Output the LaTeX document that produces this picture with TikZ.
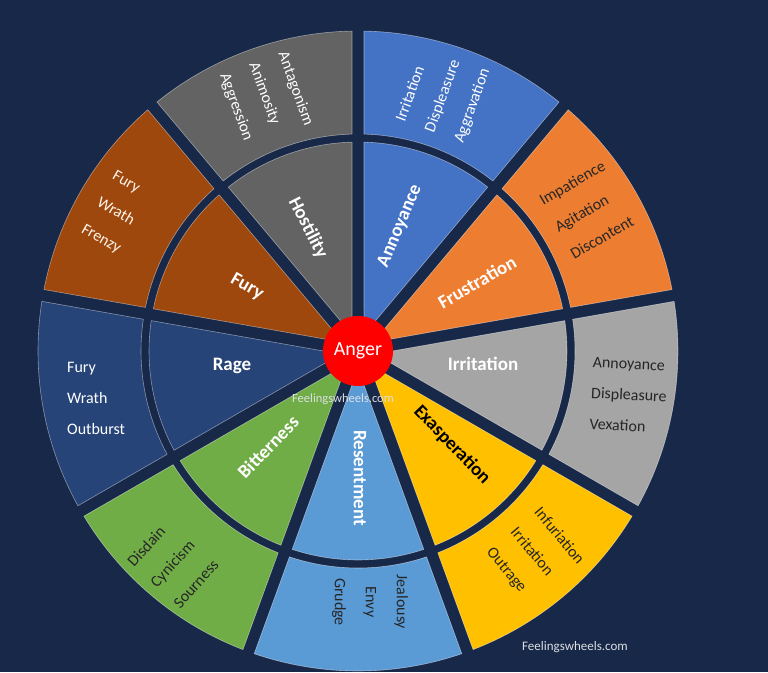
\documentclass[tikz,border=0pt]{standalone}
\usepackage{fontspec}
\setmainfont{Carlito}
\usetikzlibrary{positioning}
\definecolor{navybg}{RGB}{24,40,72}
\definecolor{annblue}{RGB}{68,114,196}
\definecolor{frusorange}{RGB}{237,125,49}
\definecolor{irrgrey}{RGB}{165,165,165}
\definecolor{exayellow}{RGB}{255,192,0}
\definecolor{resblue}{RGB}{91,155,213}
\definecolor{bitgreen}{RGB}{112,173,71}
\definecolor{ragenavy}{RGB}{38,68,120}
\definecolor{furybrown}{RGB}{158,72,14}
\definecolor{hostgrey}{RGB}{99,99,99}
\begin{document}
\begin{tikzpicture}[x=1pt,y=1pt,line join=round,
  inlabel/.style={font=\bfseries\fontsize{19}{22}\selectfont,text=white,inner sep=0pt},
  outlist/.style={font=\fontsize{16}{31}\selectfont,align=left,anchor=west,inner sep=0pt},
  site/.style={font=\fontsize{12.5}{15}\selectfont,text=white!85!navybg,inner sep=0pt}]
\fill[navybg] (-358,-321) rectangle (410,351);
\useasboundingbox (-358,-321) rectangle (410,351);
\foreach \a/\col in {50/annblue,10/frusorange,-30/irrgrey,-70/exayellow,-110/resblue,-150/bitgreen,170/ragenavy,130/furybrown,90/hostgrey}
  \foreach \ri/\ro in {28/209,217/320}{
    \pgfmathsetmacro\da{asin(6/\ro)}
    \pgfmathsetmacro\db{asin(6/\ri)}
    \draw[fill=\col,draw=white,draw opacity=0.45,line width=0.6pt] ({\a+\da}:\ro)
      arc[start angle=\a+\da,end angle=\a+40-\da,radius=\ro]
      -- ({\a+40-\db}:\ri)
      arc[start angle=\a+40-\db,end angle=\a+\db,radius=\ri] -- cycle;
  }
\node[circle,fill=red,minimum size=70pt,inner sep=0pt,text=white,font=\fontsize{20}{24}\selectfont] (anger) at (0,0) {Anger};
\node[inlabel,rotate=67] (annoyance) at (42,125) {Annoyance};
\node[inlabel,rotate=30] (frustration) at (119,69) {Frustration};
\node[inlabel] (irritation) at (125,-13) {Irritation};
\node[inlabel,rotate=-46,text=black] (exasperation) at (94,-94) {Exasperation};
\node[inlabel,rotate=-90] (resentment) at (2,-127) {Resentment};
\node[inlabel,rotate=46] (bitterness) at (-90,-96) {Bitterness};
\node[inlabel] (rage) at (-126,-15) {Rage};
\node[inlabel,rotate=-30] (fury) at (-111,64) {Fury};
\node[inlabel,rotate=-63] (hostility) at (-50,123) {Hostility};
\node[outlist,rotate=70,text=white] (annoyance-list) at (72,219) {Irritation\\Displeasure\\Aggravation};
\node[outlist,rotate=30,text=black!85] (frustration-list) at (198,123) {Impatience\\Agitation\\Discontent};
\node[outlist,rotate=-3,text=black!85] (irritation-list) at (233,-42) {Annoyance\\Displeasure\\Vexation};
\node[outlist,rotate=-50,text=black!85] (exasperation-list) at (155,-179) {Infuriation\\Irritation\\Outrage};
\node[outlist,rotate=-90,text=black!85,align=center,anchor=center] (resentment-list) at (12,-251) {Jealousy\\Envy\\Grudge};
\node[outlist,rotate=48,text=black!85] (bitterness-list) at (-205,-234) {Disdain\\Cynicism\\Sourness};
\node[outlist,text=white] (rage-list) at (-291,-47) {Fury\\Wrath\\Outburst};
\node[outlist,rotate=-30,text=white!92!orange] (fury-list) at (-260,149) {Fury\\Wrath\\Frenzy};
\node[outlist,rotate=-70,text=white!90] (hostility-list) at (-105,288) {Antagonism\\Animosity\\Aggression};
\node[site] (site-mid) at (-15,-48) {Feelingswheels.com};
\node[site,font=\fontsize{13}{15}\selectfont] (site-corner) at (217,-296) {Feelingswheels.com};
\end{tikzpicture}
\end{document}
